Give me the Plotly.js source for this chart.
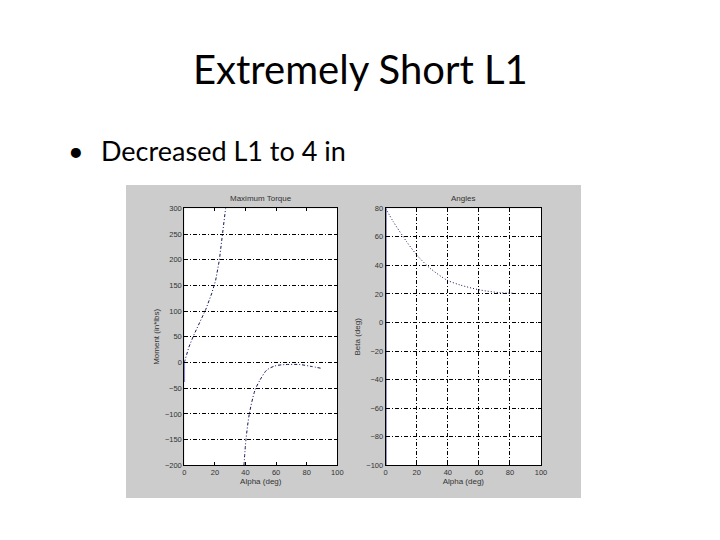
<!DOCTYPE html>
<html>
<head>
<meta charset="utf-8">
<script src="https://cdn.plot.ly/plotly-3.0.1.min.js"></script>
<style>html,body{margin:0;padding:0;background:#fff;}#chart{width:720px;height:540px;}</style>
</head>
<body>
<div id="chart"></div>
<script>
// ---- data ----
const slideTitle = "Extremely Short L1";
const bulletText = "Decreased L1 to 4 in";

const torqueTitle = "Maximum Torque";
const anglesTitle = "Angles";
const xLabel = "Alpha (deg)";
const torqueYLabel = "Moment (in*lbs)";
const anglesYLabel = "Beta (deg)";

// Maximum Torque, first branch
const torqueAlphaA = [0, 3, 6, 10, 14, 18, 20.5, 22.9, 24.4, 25.5, 27];
const torqueMomentA = [0, 30, 52, 78, 103, 135, 160, 199, 238, 271, 300];
// Maximum Torque, second branch
const torqueAlphaB = [39.0, 40.3, 42.5, 46.2, 49.5, 53.8, 59.3, 65.8, 75.6, 82.2, 90.2];
const torqueMomentB = [-200, -150, -100, -54, -34, -15, -6.6, -4, -4, -7.2, -11.7];
// short blue segment at alpha = 0
const torqueAlphaC = [0, 0];
const torqueMomentC = [0, -38];

// Angles
const anglesAlpha = [0, 4.9, 13.5, 20.4, 28.6, 39.3, 47.9, 60.7, 73.6, 82.2];
const anglesBeta = [80, 70.6, 56.6, 46.8, 38, 29.8, 26.3, 22.8, 20.9, 20.5];
const anglesAlphaC = [0, 0];
const anglesBetaC = [-100, 80];

const xTicks = [0, 20, 40, 60, 80, 100];
const torqueTicks = [-200, -150, -100, -50, 0, 50, 100, 150, 200, 250, 300];
const angleTicks = [-100, -80, -60, -40, -20, 0, 20, 40, 60, 80];

// ---- drawing ----
const W = 720, H = 540;
const px = v => v / W;
const py = v => 1 - v / H;
const curveColor = "#14145a";
const tickFont = {family: "Liberation Sans, Arial, sans-serif", size: 7.5, color: "#333"};
const labFont = {family: "Liberation Sans, Arial, sans-serif", size: 8, color: "#333"};
const gridDash = "4px,2px,1px,2px";

const traces = [
  {x: torqueAlphaA, y: torqueMomentA, xaxis: "x", yaxis: "y", mode: "lines",
   line: {color: curveColor, width: 1, dash: "3px,2px,1px,2px"}},
  {x: torqueAlphaB, y: torqueMomentB, xaxis: "x", yaxis: "y", mode: "lines",
   line: {color: curveColor, width: 1, dash: "3px,2px,1px,2px", shape: "spline", smoothing: 0.8}},
  {x: torqueAlphaC, y: torqueMomentC, xaxis: "x", yaxis: "y", mode: "lines",
   line: {color: "#5a5ad8", width: 1.5}},
  {x: anglesAlpha, y: anglesBeta, xaxis: "x2", yaxis: "y2", mode: "lines",
   line: {color: curveColor, width: 1, dash: "1px,2px", shape: "spline", smoothing: 0.8}},
  {x: anglesAlphaC, y: anglesBetaC, xaxis: "x2", yaxis: "y2", mode: "lines",
   line: {color: "#10108a", width: 1.5}}
];

const axBase = {
  showline: true, linecolor: "#000", linewidth: 1, mirror: "ticks",
  ticks: "inside", ticklen: 3, tickcolor: "#000", tickfont: tickFont,
  zeroline: false, gridcolor: "#000", gridwidth: 1, griddash: gridDash,
  fixedrange: true
};

const layout = {
  width: W, height: H,
  margin: {l: 0, r: 0, t: 0, b: 0},
  paper_bgcolor: "#fff", plot_bgcolor: "#fff",
  showlegend: false,
  xaxis: Object.assign({}, axBase, {domain: [px(184.3), px(337.3)], anchor: "y",
    range: [0, 100], tickvals: xTicks, showgrid: false,
    title: {text: xLabel, font: labFont, standoff: 2}}),
  yaxis: Object.assign({}, axBase, {domain: [py(465.3), py(208.3)], anchor: "x",
    range: [-200, 300], tickvals: torqueTicks, showgrid: true,
    title: {text: torqueYLabel, font: labFont, standoff: 4}}),
  xaxis2: Object.assign({}, axBase, {domain: [px(385.7), px(541)], anchor: "y2",
    range: [0, 100], tickvals: xTicks, showgrid: true,
    title: {text: xLabel, font: labFont, standoff: 2}}),
  yaxis2: Object.assign({}, axBase, {domain: [py(465.3), py(208.3)], anchor: "x2",
    range: [-100, 80], tickvals: angleTicks, showgrid: true,
    title: {text: anglesYLabel, font: labFont, standoff: 4}}),
  shapes: [
    {type: "rect", xref: "paper", yref: "paper", layer: "below",
     x0: px(126), x1: px(581), y0: py(498), y1: py(185),
     fillcolor: "#cccccc", line: {width: 0}},
    {type: "rect", xref: "x domain", yref: "y domain", layer: "below",
     x0: 0, x1: 1, y0: 0, y1: 1, fillcolor: "#fff", line: {width: 0}},
    {type: "rect", xref: "x2 domain", yref: "y2 domain", layer: "below",
     x0: 0, x1: 1, y0: 0, y1: 1, fillcolor: "#fff", line: {width: 0}}
  ],
  annotations: [
    {text: slideTitle, xref: "paper", yref: "paper", x: 0.5, y: py(69),
     xanchor: "center", yanchor: "middle", showarrow: false,
     font: {family: "Lato, Open Sans, sans-serif", size: 40, color: "#000"}},
    {text: "\u2022", xref: "paper", yref: "paper", x: px(76), y: py(150),
     xanchor: "center", yanchor: "middle", showarrow: false,
     font: {family: "Lato, Open Sans, sans-serif", size: 27, color: "#000"}},
    {text: bulletText, xref: "paper", yref: "paper", x: px(99), y: py(150),
     xanchor: "left", yanchor: "middle", showarrow: false,
     font: {family: "Lato, Open Sans, sans-serif", size: 27, color: "#000"}},
    {text: torqueTitle, xref: "x domain", yref: "paper", x: 0.5, y: py(199),
     xanchor: "center", yanchor: "middle", showarrow: false, font: labFont},
    {text: anglesTitle, xref: "x2 domain", yref: "paper", x: 0.5, y: py(199),
     xanchor: "center", yanchor: "middle", showarrow: false, font: labFont}
  ]
};

Plotly.newPlot("chart", traces, layout, {staticPlot: true, displayModeBar: false});
</script>
</body>
</html>
